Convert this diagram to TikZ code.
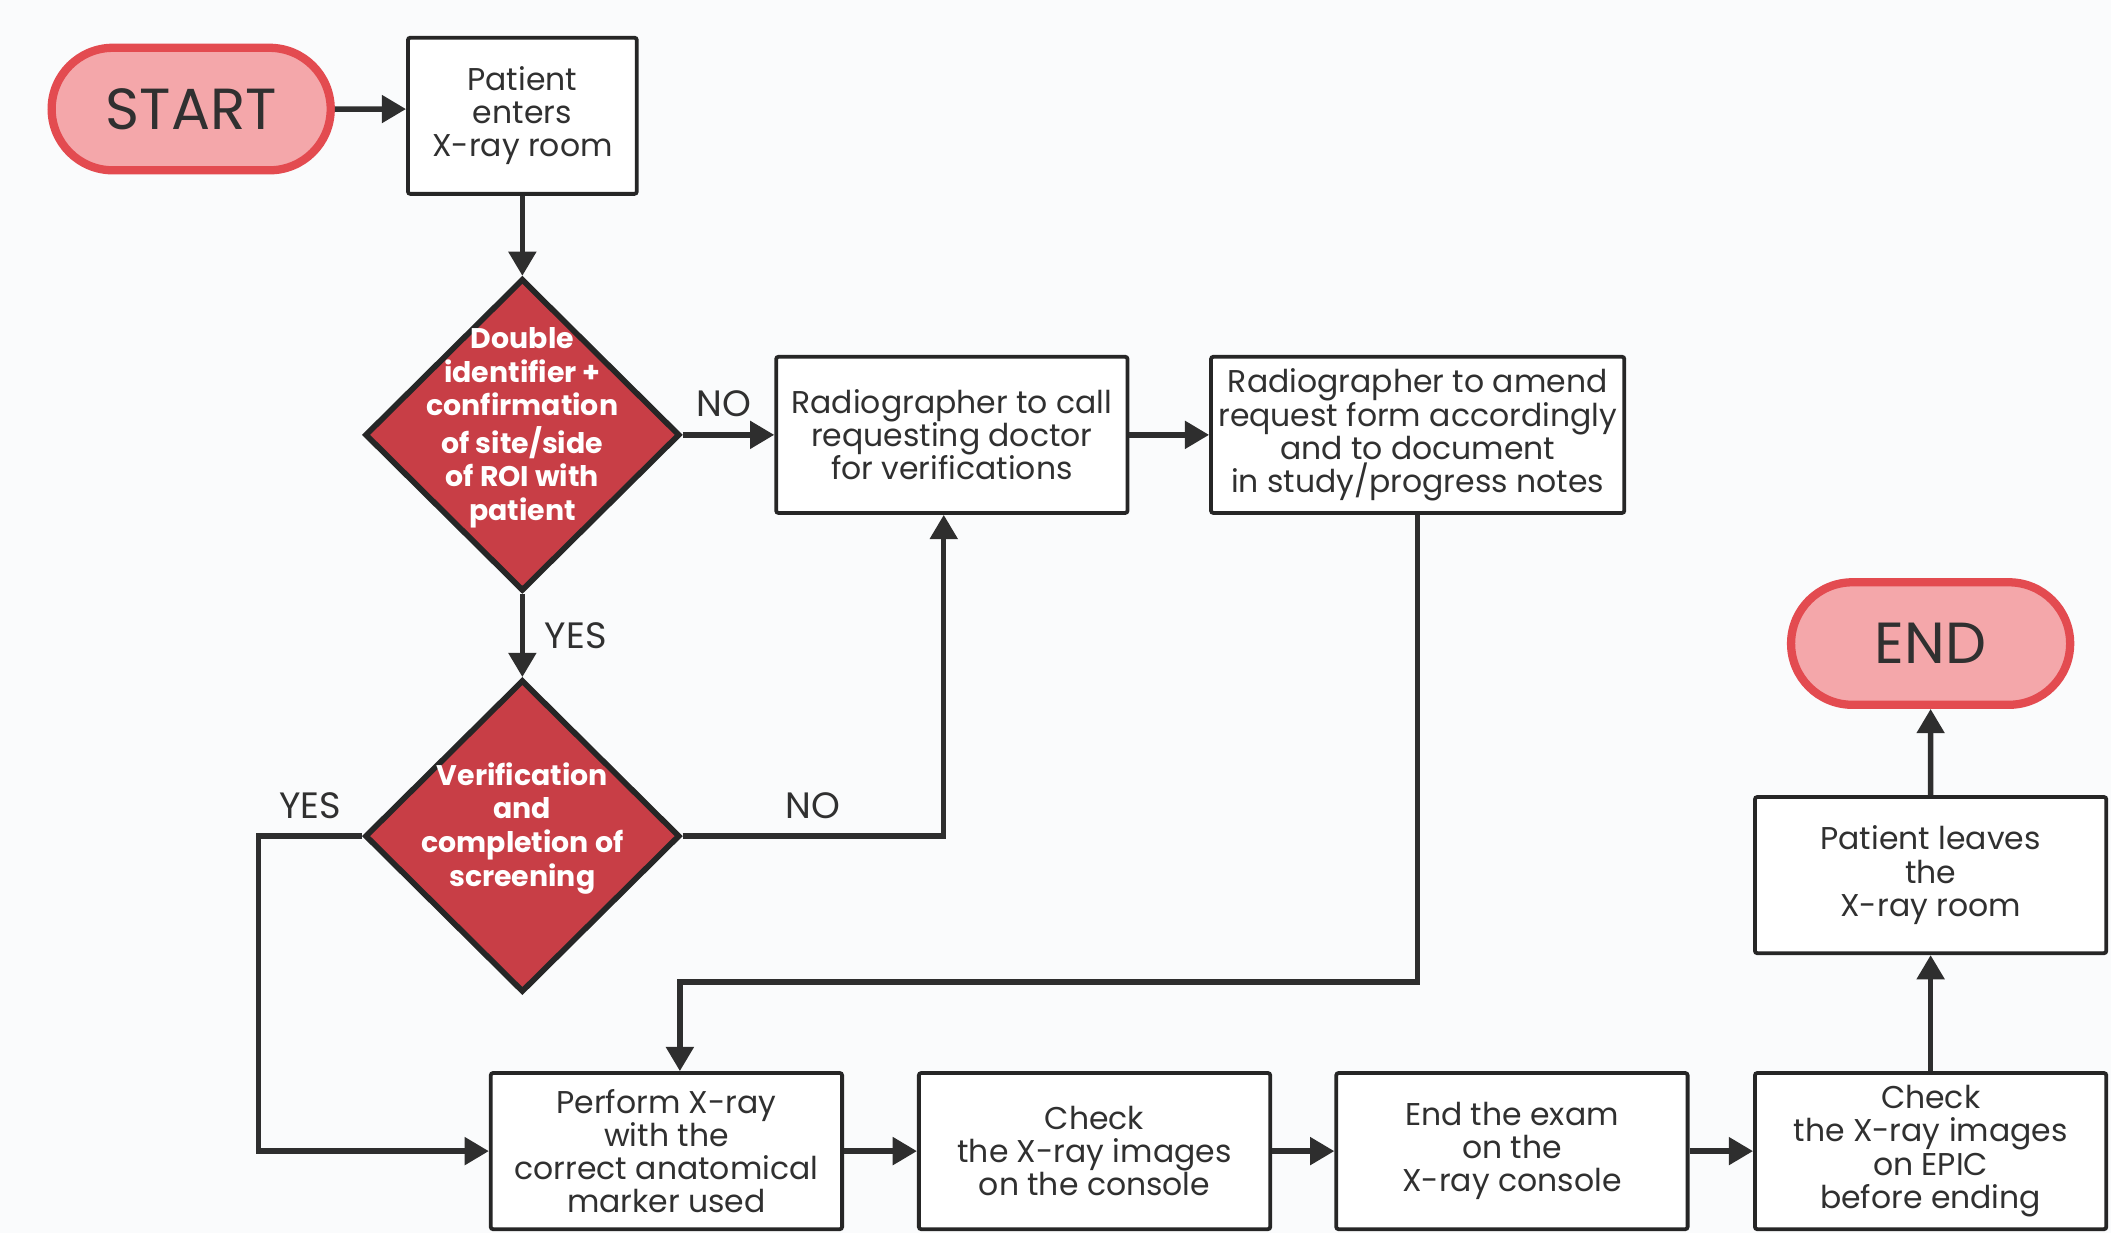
\documentclass[tikz,border=0pt]{standalone}
\usepackage{fontspec}
\setmainfont{Poppins}
\usetikzlibrary{positioning,shapes.geometric,shapes.misc,arrows.meta}

\definecolor{bg}{HTML}{FAFBFC}
\definecolor{edge}{HTML}{262626}
\definecolor{ln}{HTML}{2E2E2E}
\definecolor{txt}{HTML}{303030}
\definecolor{decfill}{HTML}{C83E46}
\definecolor{termfill}{HTML}{F4A7AA}
\definecolor{termedge}{HTML}{E34B50}

\newcommand{\boxfont}{\fontsize{13.3}{14}\selectfont}
\newcommand{\decfont}{\fontsize{12}{14.2}\selectfont\bfseries}
\newcommand{\termfont}{\fontsize{24.5}{27}\selectfont}
\newcommand{\lblfont}{\fontsize{15.5}{18}\selectfont}
% diamond text may run past the diamond, so it takes no room
\newcommand{\dtext}[1]{\smash{\makebox[0pt]{\begin{tabular}{@{}c@{}}#1\end{tabular}}}}

\begin{document}
\begin{tikzpicture}[node distance=3cm,
    box/.style={draw=edge, line width=1.6pt, fill=white, text=txt, align=center,
        minimum width=5.22cm, minimum height=2.32cm, rounded corners=1pt, inner sep=2pt, font=\boxfont},
    terminal/.style={rounded rectangle, draw=termedge, line width=3.5pt, fill=termfill, text=txt,
        minimum width=4.38cm, minimum height=1.82cm, font=\termfont},
    decision/.style={diamond, draw=edge, line width=2.4pt, fill=decfill, text=white,
        minimum width=4.68cm, minimum height=4.64cm, inner sep=0pt, font=\decfont},
    arr/.style={draw=ln, line width=2.3pt, -{Triangle[length=0.36cm, width=0.4cm]}},
    lbl/.style={text=txt, font=\lblfont}]

    \path[use as bounding box, fill=bg] (0,0) rectangle (31.36,-18.32);

    % top part
    \node[terminal] (start) at (2.84,-1.62) {START};
    \node[box, minimum width=3.40cm, right of=start, node distance=4.92cm, yshift=-0.1cm] (enter) {Patient\\enters\\X-ray room};
    \node[decision, below of=enter, node distance=4.74cm] (dec1) {\dtext{Double\\identifier +\\confirmation\\of site/side\\of ROI with\\patient}};
    \node[box, right of=dec1, node distance=6.38cm] (call) {Radiographer to call\\requesting doctor\\for verifications};
    \node[box, minimum width=6.14cm, right of=call, node distance=6.92cm] (amend) {Radiographer to amend\\request form accordingly\\and to document\\in study/progress notes};
    \node[decision, below of=dec1, node distance=5.96cm] (dec2) {\dtext{Verification\\and\\completion of\\screening}};

    % bottom row
    \node[box] (perform) at (9.9,-17.1) {Perform X-ray\\with the\\correct anatomical\\marker used};
    \node[box, right of=perform, node distance=6.36cm] (check) {Check\\the X-ray images\\on the console};
    \node[box, right of=check, node distance=6.2cm] (endexam) {End the exam\\on the\\X-ray console};
    \node[box, right of=endexam, node distance=6.22cm] (epic) {Check\\the X-ray images\\on EPIC\\before ending};
    \node[box, above of=epic, node distance=4.1cm] (leave) {Patient leaves\\the\\X-ray room};
    \node[terminal, above of=leave, node distance=3.44cm] (end) {END};

    \draw[arr] (start) -- (start -| enter.west);
    \draw[arr] (enter) -- (dec1);
    \draw[arr] (dec1) -- node[lbl, above=3pt, pos=0.45] {NO} (call);
    \draw[arr] (call) -- (amend);
    \draw[arr] (dec1) -- node[lbl, right=5pt] {YES} (dec2);
    \draw[arr] (dec2.east) -| node[lbl, above=3pt, pos=0.25] {NO} ([xshift=-0.12cm]call.south);
    \draw[arr] (dec2.west) -- node[lbl, above=3pt] {YES} ++(-1.54,0) |- (perform.west);
    \draw[arr] (amend.south) -- ++(0,-6.94) -| ([xshift=0.2cm]perform.north);
    \draw[arr] (perform) -- (check);
    \draw[arr] (check) -- (endexam);
    \draw[arr] (endexam) -- (epic);
    \draw[arr] (epic) -- (leave);
    \draw[arr] (leave) -- (end);
\end{tikzpicture}
\end{document}
